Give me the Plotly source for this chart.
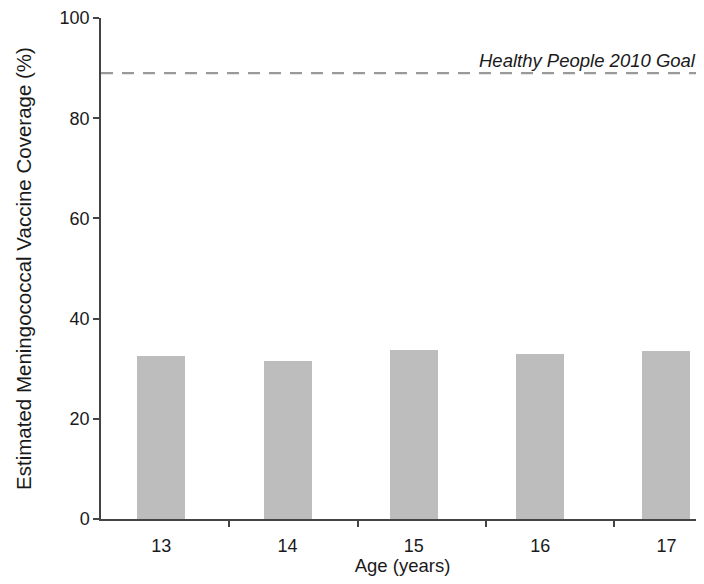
import plotly.graph_objects as go

ages = [13, 14, 15, 16, 17]
age_labels = ["13", "14", "15", "16", "17"]
coverage = [32.6, 31.5, 33.8, 33.0, 33.5]
goal_value = 89
goal_label = "Healthy People 2010 Goal"
y_ticks = [0, 20, 40, 60, 80, 100]

FONT = "Liberation Sans, Arial, sans-serif"

fig = go.Figure()
fig.add_trace(go.Bar(
    x=ages, y=coverage, width=0.38,
    marker=dict(color="#bdbdbd", line=dict(width=0)),
    showlegend=False,
))
fig.add_trace(go.Scatter(
    x=[12.523, 17.297], y=[goal_value, goal_value], mode="lines",
    line=dict(color="#9a9a9a", width=2.2, dash="12px,9px"),
    showlegend=False, hoverinfo="skip", cliponaxis=False,
))
fig.add_annotation(
    x=0.99, xref="paper", y=goal_value, yref="y",
    text="<i>" + goal_label + "</i>", showarrow=False,
    xanchor="right", yanchor="bottom", yshift=0,
    font=dict(family=FONT, size=18.5, color="#1a1a1a"),
)

fig.update_layout(
    width=696, height=568,
    margin=dict(l=93, r=0, t=10, b=57),
    plot_bgcolor="white", paper_bgcolor="white",
    font=dict(family=FONT, size=18, color="#1a1a1a"),
    bargap=0,
)
fig.update_xaxes(
    range=[12.523, 17.297],
    tickvals=ages, ticktext=age_labels,
    ticks="", showgrid=False, zeroline=False,
    showline=True, linecolor="#444", linewidth=1.5,
    tickfont=dict(size=18), ticklabelstandoff=10,
    minor=dict(tickvals=[13.538, 14.559, 15.571, 16.584], ticks="outside",
               ticklen=6, tickwidth=1.5, tickcolor="#444", showgrid=False),
    title=dict(text="Age (years)", font=dict(size=18.5), standoff=8),
)
fig.update_yaxes(
    range=[0, 100], tickvals=y_ticks,
    ticks="outside", ticklen=6, tickwidth=1.5, tickcolor="#444",
    showgrid=False, zeroline=False,
    showline=True, linecolor="#444", linewidth=1.5,
    tickfont=dict(size=18),
    title=dict(text="Estimated Meningococcal Vaccine Coverage (%)", font=dict(size=20.5), standoff=22),
)

fig.write_html("out.html")
